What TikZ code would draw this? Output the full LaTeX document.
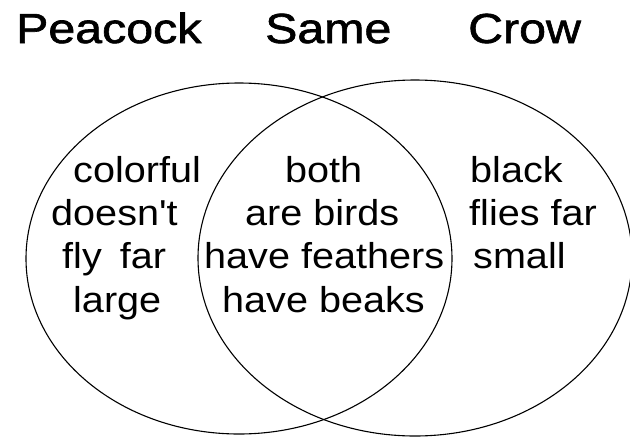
\documentclass[tikz,border=0pt]{standalone}
\usepackage{fontspec}
\usetikzlibrary{shapes.geometric}
\newfontfamily\headfont[FakeStretch=1.15, FakeBold=1.5]{Liberation Sans}
\newfontfamily\bodyfont[FakeStretch=1.1]{Liberation Sans}
\tikzset{
  venn/.style={draw=black, line width=1.1pt, ellipse, inner sep=0pt, fill=none},
  headtxt/.style={anchor=base west, inner sep=0pt, font=\headfont\fontsize{42}{42}\selectfont},
  bodytxt/.style={anchor=base west, inner sep=0pt, font=\bodyfont\fontsize{36}{36}\selectfont}
}
\begin{document}
\begin{tikzpicture}[x=1pt, y=-1pt]
\useasboundingbox (0,0) rectangle (630,437);
\fill[white] (0,0) rectangle (630,437);
\clip (0,0) rectangle (630,437);
% circles
\node[venn, minimum width=426pt, minimum height=351pt] (peacock) at (239,258.5) {};
\node[venn, minimum width=434pt, minimum height=356pt] (crow) at (415,258) {};
% headings
\node[headtxt] (hp) at (16,43) {Peacock};
\node[headtxt] (hs) at (265,43) {Same};
\node[headtxt] (hc) at (468,43) {Crow};
% left column
\node[bodytxt] (l1) at (73,182) {colorful};
\node[bodytxt] (l2) at (51,225) {doesn't};
\node[bodytxt] (l3) at (62,268) {fly\hspace{0.5em}far};
\node[bodytxt] (l4) at (73,312) {large};
% middle column
\node[bodytxt] (m1) at (285,182) {both};
\node[bodytxt] (m2) at (245,225) {are birds};
\node[bodytxt] (m3) at (204,268) {have feathers};
\node[bodytxt] (m4) at (222,312) {have beaks};
% right column
\node[bodytxt] (r1) at (470,182) {black};
\node[bodytxt] (r2) at (469,225) {flies far};
\node[bodytxt] (r3) at (473,268) {small};
\end{tikzpicture}
\end{document}
